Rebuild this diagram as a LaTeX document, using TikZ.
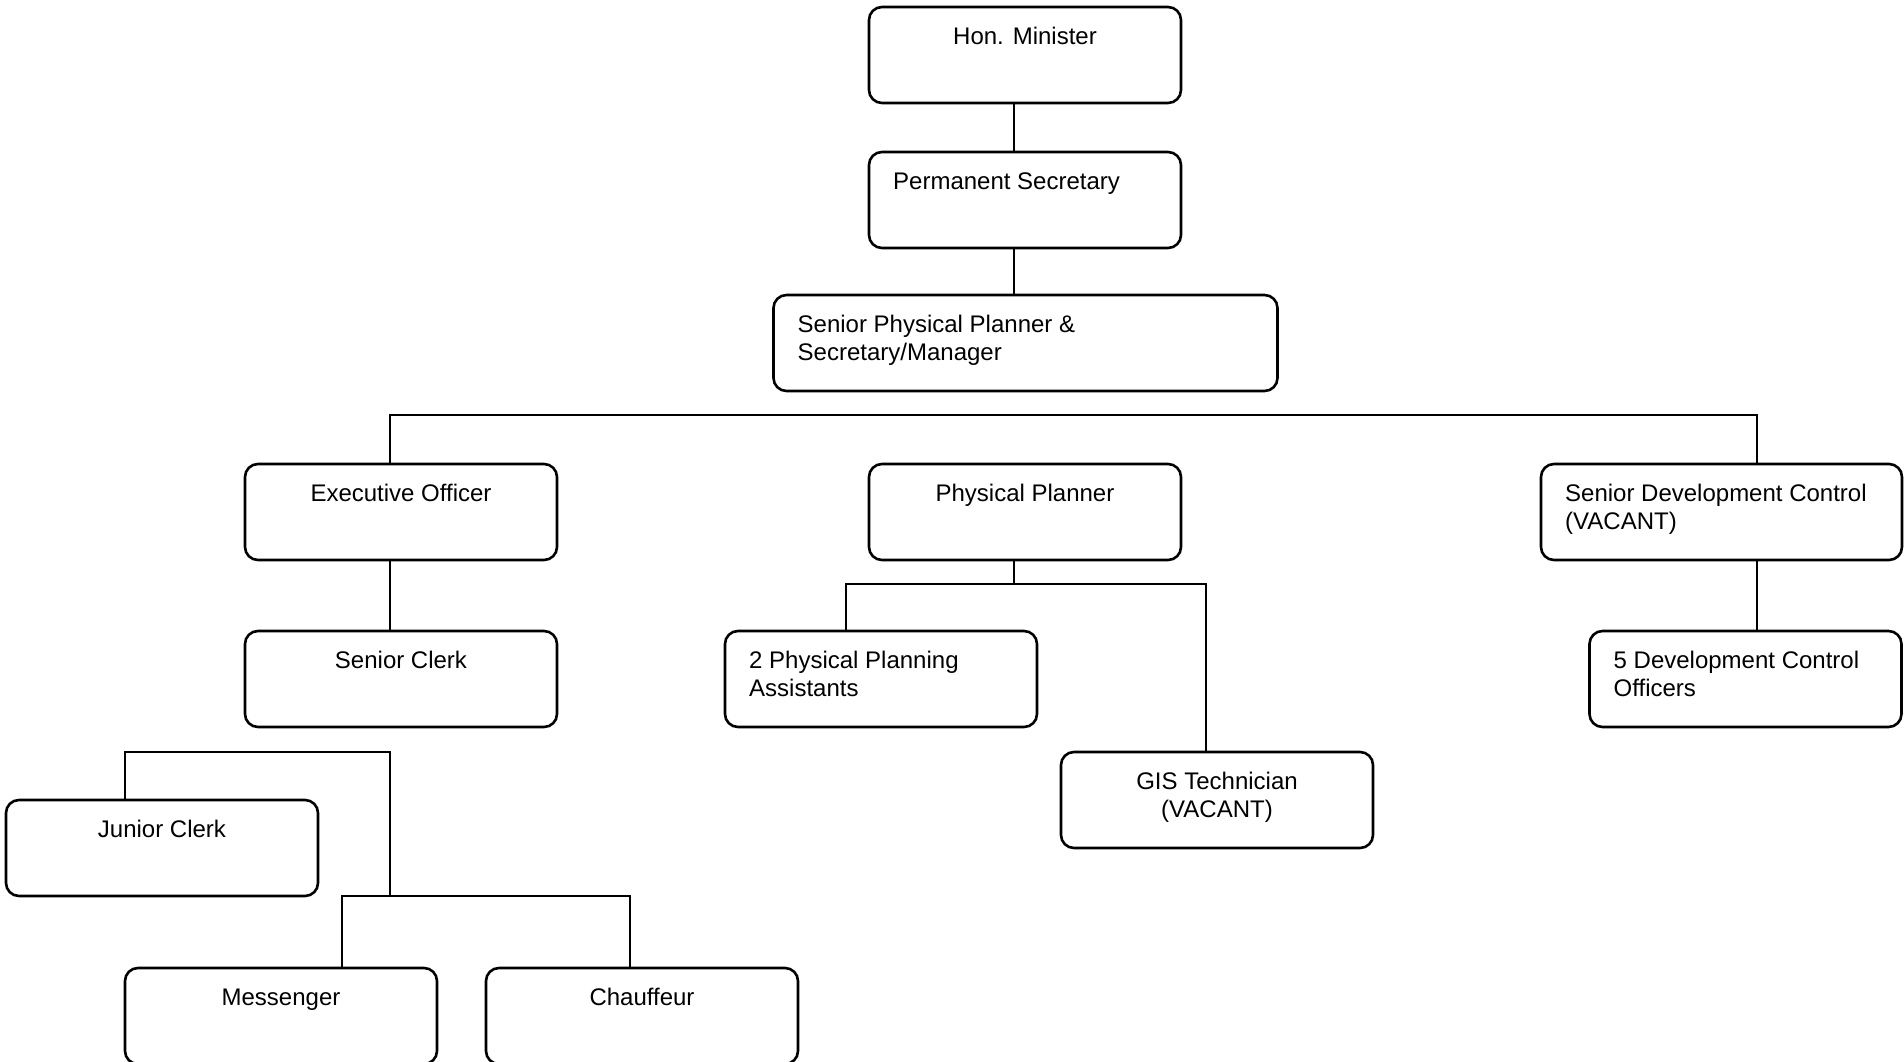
\documentclass[tikz,border=0pt]{standalone}
\usepackage{fontspec}
\setmainfont{Liberation Sans}
% invisible strut fixing the height of the first text line
\newcommand\topstrut{\rule{0pt}{20pt}}
\begin{document}
\begin{tikzpicture}[x=1pt,y=-1pt,
  box/.style={draw=black, line width=2.6pt, rounded corners=13pt,
    minimum width=312pt, minimum height=96pt, inner sep=0pt, outer sep=0pt,
    anchor=north west},
  txt/.style={inner sep=0pt, font=\fontsize{24}{28.5}\selectfont},
  ctext/.style={txt, anchor=north, align=center},
  ltext/.style={txt, anchor=north west, align=left},
  link/.style={draw=black, line width=2.6pt, line cap=rect, line join=miter}]

\fill[white] (0,0) rectangle (1904,1062);
\useasboundingbox (0,0) rectangle (1904,1062);

% boxes
\node[box] (min) at (869,7) {};
\node[box] (ps)  at (869,152) {};
\node[box, minimum width=504pt] (spp) at (773.5,295) {};
\node[box] (eo)  at (245,464) {};
\node[box] (pp)  at (869,464) {};
\node[box, minimum width=361pt] (sdc) at (1541,464) {};
\node[box] (sc)  at (245,631) {};
\node[box] (ppa) at (725,631) {};
\node[box] (gis) at (1061,752) {};
\node[box] (dco) at (1589.5,631) {};
\node[box] (jc)  at (6,800) {};
\node[box] (msg) at (125,968) {};
\node[box] (chf) at (486,968) {};

% labels
\node[ctext] (min-t) at ([yshift=-17pt]min.north) {\topstrut Hon. Minister};
\node[ltext] (ps-t)  at ([xshift=24pt,yshift=-17pt]ps.north west) {\topstrut Permanent Secretary};
\node[ltext] (spp-t) at ([xshift=24pt,yshift=-17pt]spp.north west) {\topstrut Senior Physical Planner \&\\Secretary/Manager};
\node[ctext] (eo-t)  at ([yshift=-17pt]eo.north) {\topstrut Executive Officer};
\node[ctext] (pp-t)  at ([yshift=-17pt]pp.north) {\topstrut Physical Planner};
\node[ltext] (sdc-t) at ([xshift=24pt,yshift=-17pt]sdc.north west) {\topstrut Senior Development Control\\(VACANT)};
\node[ctext] (sc-t)  at ([yshift=-17pt]sc.north) {\topstrut Senior Clerk};
\node[ltext] (ppa-t) at ([xshift=24pt,yshift=-17pt]ppa.north west) {\topstrut 2 Physical Planning\\Assistants};
\node[ctext] (gis-t) at ([yshift=-17pt]gis.north) {\topstrut GIS Technician\\(VACANT)};
\node[ltext] (dco-t) at ([xshift=24pt,yshift=-17pt]dco.north west) {\topstrut 5 Development Control\\Officers};
\node[ctext] (jc-t)  at ([yshift=-17pt]jc.north) {\topstrut Junior Clerk};
\node[ctext] (msg-t) at ([yshift=-17pt]msg.north) {\topstrut Messenger};
\node[ctext] (chf-t) at ([yshift=-17pt]chf.north) {\topstrut Chauffeur};

% junction points
\coordinate (bus)  at (0,415);
\coordinate (ppj)  at (1014,584);
\coordinate (ckj)  at (390,752);
\coordinate (cmj)  at (390,896);

% connectors
\draw[link] ([xshift=-11pt]min.south) -- ([xshift=-11pt]ps.north);
\draw[link] ([xshift=-11pt]ps.south) -- ([xshift=-11pt]ps.south |- spp.north);
\draw[link] ([xshift=-11pt]eo.north) -- ([xshift=-11pt]eo.north |- bus)
  -- ([xshift=35.5pt]sdc.north |- bus) -- ([xshift=35.5pt]sdc.north);
\draw[link] ([xshift=-11pt]eo.south) -- ([xshift=-11pt]eo.south |- sc.north);
\draw[link] ([xshift=-11pt]pp.south) -- (ppj);
\draw[link] ([xshift=-35pt]ppa.north) |- (ppj);
\draw[link] ([xshift=-11pt]gis.north) |- (ppj);
\draw[link] ([xshift=11.5pt]dco.north |- sdc.south) -- ([xshift=11.5pt]dco.north);
\draw[link] ([xshift=-37pt]jc.north) |- (ckj) -- (cmj);
\draw[link] ([xshift=61pt]msg.north) |- (cmj);
\draw[link] ([xshift=-12pt]chf.north) |- (cmj);
\end{tikzpicture}
\end{document}
